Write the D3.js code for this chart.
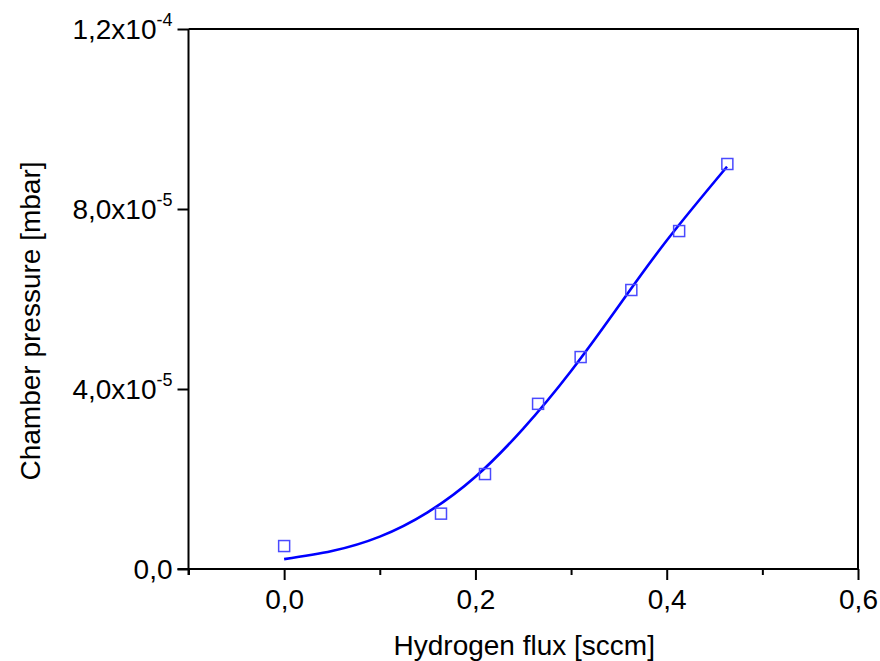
<!DOCTYPE html>
<html>
<head>
<meta charset="utf-8">
<script src="https://cdn.jsdelivr.net/npm/d3@7"></script>
<style>
  html, body { margin: 0; padding: 0; background: #fff; }
  svg { display: block; }
  text { font-family: "Liberation Sans", Arial, sans-serif; fill: #000; }
</style>
</head>
<body>
<script>
// ---- data ----
const fluxValues = [0.0, 0.164, 0.210, 0.2655, 0.310, 0.363, 0.413, 0.4634];
const pressureValues = [5.1e-6, 1.23e-5, 2.11e-5, 3.67e-5, 4.71e-5, 6.2e-5, 7.51e-5, 9.0e-5];

const fitFlux = [0, 0.05, 0.1, 0.15, 0.2, 0.25, 0.3, 0.35, 0.4, 0.463];
const fitPressure = [2.2e-6, 4.0e-6, 7.2e-6, 1.26e-5, 2.05e-5, 3.12e-5, 4.4e-5, 5.85e-5, 7.3e-5, 8.94e-5];

const xMajorTicks = [0.0, 0.2, 0.4, 0.6];
const xMinorTicks = [-0.1, 0.1, 0.3, 0.5];
const xTickLabels = ["0,0", "0,2", "0,4", "0,6"];

const yTicks = [0, 4e-5, 8e-5, 1.2e-4];
const yTickMantissa = ["0,0", "4,0x10", "8,0x10", "1,2x10"];
const yTickExponent = ["", "-5", "-5", "-4"];

const xTitle = "Hydrogen flux [sccm]";
const yTitle = "Chamber pressure [mbar]";

// ---- layout ----
const W = 880, H = 661;
const mLeft = 188.5, mRight = 858, mTop = 29, mBottom = 569;

const svg = d3.select("body").append("svg").attr("width", W).attr("height", H);

const x = d3.scaleLinear().domain([-0.1, 0.6]).range([mLeft, mRight]);
const y = d3.scaleLinear().domain([0, 1.2e-4]).range([mBottom, mTop]);

// frame (top & right)
svg.append("path")
  .attr("d", `M${mLeft},${mTop}H${mRight}V${mBottom}`)
  .attr("fill", "none").attr("stroke", "#000").attr("stroke-width", 2);

// x axis major
const xAxis = svg.append("g").attr("transform", `translate(0,${mBottom})`)
  .call(d3.axisBottom(x).tickValues(xMajorTicks).tickSize(11).tickPadding(9)
    .tickFormat((d, i) => xTickLabels[i]));
xAxis.select(".domain").attr("stroke-width", 2).attr("d", `M${mLeft - 11},0H${mRight}`);
xAxis.selectAll(".tick line").attr("stroke-width", 2);
xAxis.selectAll(".tick text").attr("font-size", 28).attr("font-family", "Liberation Sans, Arial, sans-serif");

// x axis minor
svg.append("g").attr("transform", `translate(0,${mBottom})`)
  .call(d3.axisBottom(x).tickValues(xMinorTicks).tickSize(6).tickFormat(""))
  .call(g => g.select(".domain").remove())
  .selectAll(".tick line").attr("stroke-width", 2);

// y axis
const yAxis = svg.append("g").attr("transform", `translate(${mLeft},0)`)
  .call(d3.axisLeft(y).tickValues(yTicks).tickSize(11).tickPadding(6).tickFormat(""));
yAxis.select(".domain").attr("stroke-width", 2).attr("d", `M0,${mBottom + 6}V${mTop}`);
yAxis.selectAll(".tick line").attr("stroke-width", 2);
yAxis.selectAll(".tick").each(function (d, i) {
  const t = d3.select(this).append("text")
    .attr("x", -16).attr("dy", "0.35em")
    .attr("text-anchor", "end")
    .attr("font-size", 28)
    .attr("font-family", "Liberation Sans, Arial, sans-serif")
    .attr("fill", "#000");
  t.append("tspan").text(yTickMantissa[i]);
  if (yTickExponent[i]) {
    t.append("tspan").attr("font-size", 18).attr("dy", "-0.75em").text(yTickExponent[i]);
  }
});

// titles
svg.append("text")
  .attr("x", (mLeft + mRight) / 2 + 1).attr("y", 655)
  .attr("text-anchor", "middle").attr("font-size", 28)
  .text(xTitle);
svg.append("text")
  .attr("transform", `translate(40,${(mTop + mBottom) / 2 + 22}) rotate(-90)`)
  .attr("text-anchor", "middle").attr("font-size", 28)
  .text(yTitle);

// fit curve
const fit = fitFlux.map((v, i) => [v, fitPressure[i]]);
svg.append("path")
  .datum(fit)
  .attr("fill", "none").attr("stroke", "#0000ff").attr("stroke-width", 2.6)
  .attr("d", d3.line().x(d => x(d[0])).y(d => y(d[1])).curve(d3.curveNatural));

// markers
const pts = fluxValues.map((v, i) => [v, pressureValues[i]]);
svg.append("g").selectAll("rect").data(pts).join("rect")
  .attr("x", d => x(d[0]) - 5.5).attr("y", d => y(d[1]) - 5.5)
  .attr("width", 11).attr("height", 11)
  .attr("fill", "none").attr("stroke", "#4a4aff").attr("stroke-width", 1.5);
</script>
</body>
</html>
